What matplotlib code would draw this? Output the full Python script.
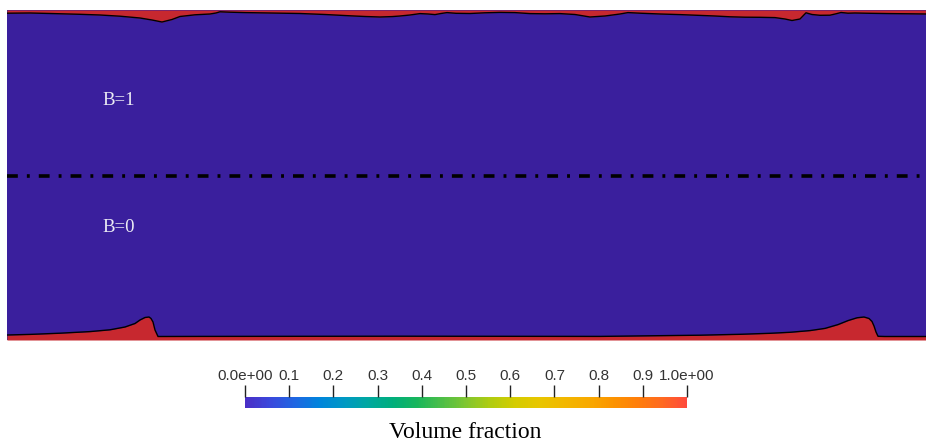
import numpy as np
import matplotlib
matplotlib.use('Agg')
import matplotlib.pyplot as plt
from matplotlib.colors import LinearSegmentedColormap
from matplotlib.cm import ScalarMappable
from matplotlib.colors import Normalize

# interface positions (domain units, y measured downward from top wall)
top_x = [7, 30, 50, 80, 100, 120, 140, 152, 162, 172, 180, 195, 210, 216, 220, 230, 245, 270, 300,
         325, 350, 365, 380, 392, 400, 410, 420, 428, 435, 441, 447, 456, 470, 485, 500, 515, 530,
         545, 560, 575, 590, 605, 620, 628, 640, 660, 680, 700, 715, 730, 745, 760, 775, 785, 792,
         800, 806, 812, 820, 830, 836, 841, 848, 855, 870, 890, 910, 926]
top_y = [13.2, 13.0, 13.5, 14.3, 15.0, 16.2, 18.0, 20.0, 22.0, 19.5, 16.5, 14.8, 14.0, 13.0, 11.8,
         12.2, 12.6, 13.0, 13.5, 14.5, 15.8, 16.5, 17.0, 16.6, 16.0, 15.0, 13.6, 14.0, 14.6, 13.5,
         12.6, 13.3, 13.5, 12.8, 12.4, 12.6, 13.6, 13.8, 13.6, 14.5, 17.0, 16.0, 14.0, 12.6, 13.2,
         14.0, 14.6, 15.4, 16.0, 16.8, 17.2, 17.3, 17.6, 19.0, 20.5, 19.0, 12.8, 14.5, 15.3, 15.2,
         13.8, 12.5, 13.2, 13.0, 13.3, 13.6, 13.8, 14.0]

bot_x = [7, 30, 60, 90, 110, 125, 135, 140, 145, 149, 151, 153, 155, 158, 200, 300, 400, 500, 600,
         650, 700, 740, 770, 790, 810, 825, 838, 848, 857, 864, 869, 872, 874, 876, 878, 885, 926]
bot_y = [335.0, 334.4, 333.2, 331.6, 329.8, 327.0, 323.5, 320.0, 317.5, 317.0, 318.5, 322.0, 330.0,
         336.5, 336.4, 336.3, 336.2, 336.3, 336.4, 335.8, 335.2, 334.3, 333.3, 332.3, 330.6, 328.4,
         324.6, 320.6, 317.8, 317.0, 318.5, 321.5, 326.0, 332.0, 336.3, 336.5, 336.5]

x0, x1 = 7, 926
y_top, y_bot = 10, 340
y_mid = 176

labels = ['B=1', 'B=0']
label_y = [100, 227]

cb_ticks = [0.0, 0.1, 0.2, 0.3, 0.4, 0.5, 0.6, 0.7, 0.8, 0.9, 1.0]
cb_ticklabels = ['0.0e+00', '0.1', '0.2', '0.3', '0.4', '0.5', '0.6', '0.7', '0.8', '0.9', '1.0e+00']

blue = '#3a1f9d'
red = '#c7282f'
cmap = LinearSegmentedColormap.from_list('vf', [
    '#4a2fc6', '#3a48dc', '#1f66e2', '#0084dc', '#0098c4', '#00a8a0', '#00ae7c', '#18b65c',
    '#4cbe48', '#80c630', '#b0cc10', '#d4cc00', '#e8c600', '#f2b800', '#f8aa00', '#fc9400',
    '#ff7e0a', '#ff6a20', '#ff4a3c'])

fig = plt.figure(figsize=(9.26, 4.44), dpi=100)
W, H = 926, 444

ax = fig.add_axes([x0 / W, 1 - y_bot / H, (x1 - x0) / W, (y_bot - y_top) / H])
ax.set_facecolor(blue)
ax.set_xlim(x0, x1)
ax.set_ylim(y_bot, y_top)
ax.fill_between(top_x, y_top, top_y, color=red, lw=0)
ax.fill_between(bot_x, bot_y, y_bot, color=red, lw=0)
ax.plot(top_x, top_y, color='black', lw=1.0)
ax.plot(bot_x, bot_y, color='black', lw=1.0)
ax.plot([x0, x1], [y_mid, y_mid], color='black', lw=2.6, dashes=(3.0, 2.5, 0.8, 2.5))
for t, yy in zip(labels, label_y):
    ax.text(102, yy, t, color='#ececf4', fontsize=13.5, family='Liberation Serif',
            ha='left', va='center')
ax.set_xticks([])
ax.set_yticks([])
for s in ax.spines.values():
    s.set_visible(False)

# colorbar
cax = fig.add_axes([245 / W, 1 - 408 / H, 442 / W, 11 / H])
sm = ScalarMappable(norm=Normalize(0, 1), cmap=cmap)
cb = fig.colorbar(sm, cax=cax, orientation='horizontal')
cb.outline.set_visible(False)
cb.set_ticks(cb_ticks)
cax.xaxis.set_ticks_position('top')
cax.set_xticklabels(cb_ticklabels)
cax.tick_params(axis='x', direction='out', length=9, width=1, color='#222222',
                labelsize=11, pad=1)
for lab in cax.get_xticklabels():
    lab.set_family('Liberation Sans')
    lab.set_color('#333333')
fig.text(465 / W, 1 - 432 / H, 'Volume fraction', ha='center', va='center',
         fontsize=17, family='Liberation Serif')

plt.savefig('out.png', dpi=100)
